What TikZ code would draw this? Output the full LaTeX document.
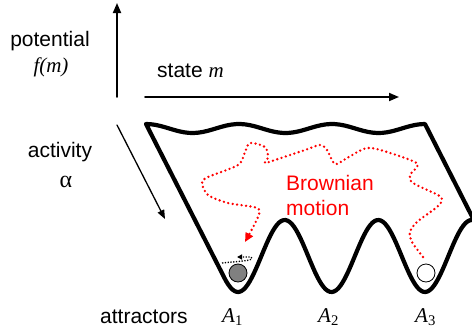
\documentclass[tikz,border=0pt]{standalone}
\usepackage{fontspec}
\setmainfont{Liberation Sans}
\newfontfamily\tms{Liberation Serif}
\usetikzlibrary{arrows.meta}

\tikzset{
  etic/.style={font=\fontsize{21}{24}\selectfont, inner sep=0pt, anchor=base},
  paesaggio/.style={line width=4.2pt, line join=round},
  browniano/.style={red, line width=2.6pt, dash pattern=on 0pt off 4.5pt, line cap=round},
  pallina/.style={draw, circle, line width=0.8pt, minimum size=18pt, inner sep=0pt},
}

\begin{document}
\begin{tikzpicture}[>=Stealth, line cap=round, line join=round, x=1pt, y=-1pt]
\clip (0,0) rectangle (472,333);

% Assi
\coordinate (f0) at (117,97);
\coordinate (f1) at (117,3);
\coordinate (m0) at (145,97);
\coordinate (m1) at (399,97);
\coordinate (a0) at (117,125);
\coordinate (a1) at (165,219);
\draw[-{Triangle[length=10pt,width=8pt]}, line width=1.8pt] (f0) -- (f1);
\draw[-{Triangle[length=10pt,width=8pt]}, line width=1.8pt] (m0) -- (m1);
\draw[-{Triangle[length=9pt,width=7pt]}, line width=1.3pt] (a0) -- (a1);

% Etichette assi
\node[etic] (pot) at (50,46) {potential};
\node[etic] (fm) at (51,72) {\tms\itshape f(m)};
\node[etic, anchor=base west] (st) at (157,77) {state {\tms\itshape m}};
\node[etic] (act) at (60,157) {activity};
\node[etic] (alf) at (66,187) {\tms\fontsize{24}{26}\selectfont α};

% Paesaggio
\draw[paesaggio] plot[domain=146:425, samples=60] (\x, {128.5-4.5*cos(360/93*(\x-146))})
  -- (474,220.4)
  -- plot[domain=474:222, samples=120] (\x, {256+36*cos(360/93.5*(\x-238))})
  -- cycle;

% Palline
\node[pallina, fill=gray] (p1) at (238,273) {};
\node[pallina, fill=white] (p3) at (426,273) {};
\draw[line width=1.3pt, line cap=butt, dash pattern=on 1.3pt off 1.5pt, -{Triangle[length=5pt,width=5pt]}]
  (222,263) .. controls (240,261) and (256,261) .. (251,257) -- (237,257);

% Moto browniano
\draw[browniano, -{Triangle[length=9pt,width=8pt]}] plot[smooth, tension=0.5] coordinates {
  (423,257) (412,242) (410,232) (417,222) (437,207) (442,200) (438,195) (413,183)
  (410,175) (417,167) (415,162) (387,152) (367,148) (347,158) (335,164) (327,150)
  (320,145) (305,150) (275,160) (265,163) (268,157) (265,147) (250,143) (245,152)
  (238,165) (208,177) (202,183) (208,195) (228,203) (257,208) (258,217) (245,242)};
\node[etic, red, anchor=base west] (bm1) at (286,190) {Brownian};
\node[etic, red, anchor=base west] (bm2) at (286,215) {motion};

% Attrattori
\node[etic, anchor=base west] (att) at (100,323) {attractors};
\node[etic, anchor=base west] (A1) at (222,322) {\tms\textit{A}\textsubscript{1}};
\node[etic, anchor=base west] (A2) at (318,322) {\tms\textit{A}\textsubscript{2}};
\node[etic, anchor=base west] (A3) at (415,322) {\tms\textit{A}\textsubscript{3}};

\end{tikzpicture}
\end{document}
